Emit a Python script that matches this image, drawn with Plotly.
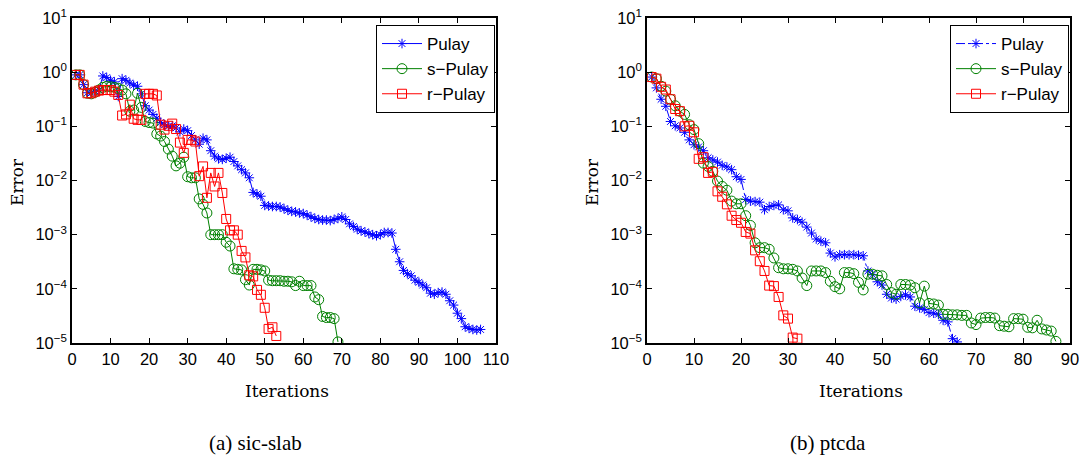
import numpy as np
import plotly.graph_objects as go

# ---- Data (stored as log10(Error)) ----
sic_pulay_log10 = [
    -0.05, -0.05, -0.23, -0.38, -0.38, -0.35, -0.33, -0.07, -0.10, -0.15,
    -0.18, -0.45, -0.12, -0.15, -0.20, -0.24, -0.26, -0.40, -0.62, -0.70,
    -0.78, -0.85, -0.93, -0.97, -1.00, -0.99, -1.03, -1.10, -1.05, -1.08,
    -1.17, -1.25, -1.33, -1.22, -1.25, -1.45, -1.55, -1.60, -1.61, -1.59,
    -1.57, -1.65, -1.73, -1.80, -1.86, -1.95, -2.22, -2.25, -2.29, -2.46,
    -2.47, -2.48, -2.48, -2.49, -2.52, -2.55, -2.57, -2.58, -2.60, -2.61,
    -2.64, -2.67, -2.70, -2.72, -2.73, -2.73, -2.74, -2.72, -2.70, -2.67,
    -2.72, -2.80, -2.85, -2.90, -2.93, -2.95, -2.98, -3.00, -3.02, -3.00,
    -2.96, -2.96, -2.97, -3.27, -3.50, -3.66, -3.72, -3.76, -3.84, -3.88,
    -3.93, -3.98, -4.08, -4.10, -4.07, -4.06, -4.10, -4.22, -4.30, -4.45,
    -4.55, -4.70, -4.73, -4.75, -4.76, -4.75,
]
sic_spulay_log10 = [
    -0.05, -0.05, -0.23, -0.39, -0.40, -0.37, -0.33, -0.28, -0.26, -0.27,
    -0.28, -0.30, -0.33, -0.40, -0.72, -0.70, -0.39, -0.65, -0.91, -0.93,
    -0.94, -1.14, -1.18, -1.28, -1.42, -1.55, -1.73, -1.68, -1.57, -1.93,
    -1.95, -1.95, -2.34, -2.44, -2.60, -3.00, -3.00, -3.00, -3.00, -3.14,
    -3.21, -3.63, -3.64, -3.65, -3.83, -3.93, -3.64, -3.64, -3.65, -3.67,
    -3.84, -3.85, -3.85, -3.85, -3.86, -3.86, -3.87, -3.94, -3.86, -3.94,
    -3.94, -3.94, -4.15, -4.20, -4.51, -4.53, -4.53, -4.55, -4.98,
]
sic_rpulay_log10 = [
    -0.05, -0.05, -0.23, -0.39, -0.39, -0.36, -0.34, -0.33, -0.33, -0.33,
    -0.36, -0.42, -0.80, -0.78, -0.60, -0.86, -0.88, -0.88, -0.40, -0.40,
    -0.40, -0.43, -0.97, -1.06, -0.99, -0.95, -1.05, -1.30, -1.49, -1.25,
    -1.25, -1.28, -1.92, -1.74, -2.32, -1.86, -2.11, -1.86, -2.23, -2.71,
    -2.92, -2.92, -3.00, -3.30, -3.42, -3.75, -3.77, -4.02, -4.11, -4.35,
    -4.74, -4.71, -4.87,
]
ptcda_pulay_log10 = [
    -0.09, -0.29, -0.50, -0.63, -0.91, -0.99, -1.03, -1.11, -1.25, -1.34,
    -1.38, -1.45, -1.58, -1.62, -1.66, -1.72, -1.75, -1.80, -1.93, -1.98,
    -2.35, -2.38, -2.39, -2.40, -2.54, -2.48, -2.46, -2.45, -2.54, -2.56,
    -2.69, -2.72, -2.77, -2.86, -2.97, -3.08, -3.12, -3.15, -3.34, -3.41,
    -3.37, -3.37, -3.37, -3.37, -3.38, -3.39, -3.67, -3.74, -3.87, -3.93,
    -4.10, -4.17, -4.19, -4.14, -4.11, -4.15, -4.32, -4.35, -4.38, -4.44,
    -4.45, -4.47, -4.58, -4.61, -4.92, -4.98,
]
ptcda_spulay_log10 = [
    -0.09, -0.12, -0.26, -0.35, -0.50, -0.62, -0.72, -0.78, -0.97, -1.06,
    -1.32, -1.68, -1.74, -1.83, -2.01, -2.11, -2.18, -2.38, -2.43, -2.43,
    -2.65, -2.83, -3.15, -3.24, -3.24, -3.27, -3.43, -3.61, -3.63, -3.63,
    -3.64, -3.67, -3.80, -3.94, -3.67, -3.67, -3.67, -3.70, -3.86, -3.96,
    -4.00, -3.70, -3.70, -3.72, -3.88, -4.02, -3.73, -3.73, -3.75, -3.76,
    -3.92, -4.07, -4.10, -3.92, -3.92, -3.93, -3.98, -4.26, -3.95, -4.27,
    -4.28, -4.30, -4.47, -4.47, -4.48, -4.48, -4.49, -4.49, -4.63, -4.66,
    -4.54, -4.53, -4.53, -4.54, -4.68, -4.69, -4.70, -4.55, -4.55, -4.56,
    -4.71, -4.72, -4.58, -4.74, -4.76, -4.78, -4.97,
]
ptcda_rpulay_log10 = [
    -0.09, -0.12, -0.27, -0.32, -0.50, -0.68, -0.72, -1.00, -0.99, -1.11,
    -1.60, -1.57, -1.86, -1.84, -2.20, -2.30, -2.44, -2.65, -2.73, -2.78,
    -2.95, -2.98, -3.29, -3.49, -3.67, -3.94, -3.95, -4.15, -4.49, -4.55,
    -4.90, -4.92,
]

series_names = ["Pulay", "s\u2212Pulay", "r\u2212Pulay"]
y_tick_exponents = [-5, -4, -3, -2, -1, 0, 1]
captions = ["(a) sic-slab", "(b) ptcda"]

BLUE, GREEN, RED = "#0000ff", "#008000", "#ff0000"
W, H = 1079, 456

def px(xp):
    return xp / W

def py(yp):
    return 1 - yp / H

fig = go.Figure()

styles = [
    dict(symbol="asterisk-open", size=8, color=BLUE),
    dict(symbol="circle-open", size=10, color=GREEN),
    dict(symbol="square-open", size=9, color=RED),
]

def add_panel(data_lists, xa, ya, legend, pulay_dash):
    for i, (vals, st) in enumerate(zip(data_lists, styles)):
        iters = list(range(1, len(vals) + 1))
        errs = [10 ** v for v in vals]
        dash = pulay_dash if i == 0 else "solid"
        fig.add_trace(go.Scatter(
            x=iters, y=errs, mode="lines+markers", name=series_names[i],
            xaxis=xa, yaxis=ya, legend=legend,
            line=dict(color=st["color"], width=1, dash=dash),
            marker=dict(symbol=st["symbol"], size=st["size"],
                        color=st["color"], line=dict(color=st["color"], width=1)),
        ))

add_panel([sic_pulay_log10, sic_spulay_log10, sic_rpulay_log10], "x", "y", "legend", "solid")
add_panel([ptcda_pulay_log10, ptcda_spulay_log10, ptcda_rpulay_log10], "x2", "y2", "legend2", "dashdot")

tick_font = dict(family="Liberation Sans", size=16.5, color="black")
ytickvals = [10 ** e for e in y_tick_exponents]
yticktext = ["10<sup>%s</sup>" % (str(e).replace("-", "\u2212")) for e in y_tick_exponents]

common_axis = dict(showline=True, linecolor="black", linewidth=1.5, mirror="allticks",
                   ticks="inside", ticklen=5, tickcolor="black", tickwidth=1,
                   showgrid=False, zeroline=False, tickfont=tick_font, automargin=False,
                   ticklabeloverflow="allow")

ydom = [py(343), py(18)]
fig.update_layout(
    xaxis=dict(domain=[px(72), px(496)], range=[0, 110], dtick=10, tick0=0,
               anchor="y", **common_axis),
    yaxis=dict(domain=ydom, type="log", range=[-5, 1], tickvals=ytickvals,
               ticktext=yticktext, anchor="x", **common_axis),
    xaxis2=dict(domain=[px(647), px(1070)], range=[0, 90], dtick=10, tick0=0,
                anchor="y2", **common_axis),
    yaxis2=dict(domain=ydom, type="log", range=[-5, 1], tickvals=ytickvals,
                ticktext=yticktext, anchor="x2", **common_axis),
)

legend_common = dict(xref="paper", yref="paper", xanchor="left", yanchor="top",
                     bgcolor="white", bordercolor="black", borderwidth=1,
                     font=dict(family="Liberation Sans", size=17, color="black"),
                     tracegroupgap=0, itemwidth=40)
fig.update_layout(
    legend=dict(x=px(376), y=py(25), **legend_common),
    legend2=dict(x=px(950), y=py(25), **legend_common),
)

serif = "DejaVu Serif"
times = "Liberation Serif"
annotations = []
for cx, cap_x, cap in zip([287, 861], [255, 828], captions):
    annotations.append(dict(x=px(cx), y=py(391), xref="paper", yref="paper",
                            xanchor="center", yanchor="middle",
                            text="Iterations", showarrow=False,
                            font=dict(family=serif, size=17, color="black")))
    annotations.append(dict(x=px(cap_x), y=py(443), xref="paper", yref="paper",
                            xanchor="center", yanchor="middle",
                            text=cap, showarrow=False,
                            font=dict(family=times, size=21, color="black")))
for ex in [17, 592]:
    annotations.append(dict(x=px(ex), y=py(182), xref="paper", yref="paper",
                            xanchor="center", yanchor="middle",
                            text="Error", showarrow=False, textangle=-90,
                            font=dict(family=serif, size=17, color="black")))

fig.update_layout(
    width=W, height=H, margin=dict(l=0, r=0, t=0, b=0, pad=0), autosize=False,
    paper_bgcolor="white", plot_bgcolor="white",
    annotations=annotations, showlegend=True,
)

fig.write_html(
    "out.html",
    config={"displayModeBar": False},
    post_script="document.body.style.margin='0';document.body.style.padding='0';"
                "document.body.style.overflow='hidden';",
)
